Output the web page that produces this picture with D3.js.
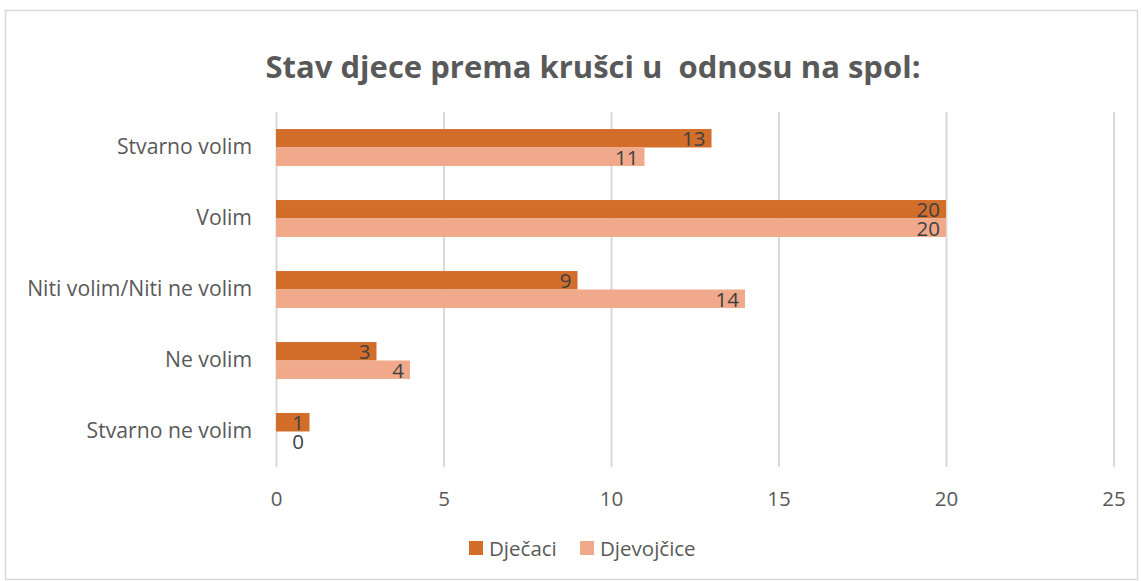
<!DOCTYPE html>
<html>
<head>
<meta charset="utf-8">
<script src="https://cdn.jsdelivr.net/npm/d3@7"></script>
<style>
  body { margin: 0; background: #fff; }
  svg { display: block; }
</style>
</head>
<body>
<svg width="1141" height="581"></svg>
<script>
const categories = ["Stvarno volim", "Volim", "Niti volim/Niti ne volim", "Ne volim", "Stvarno ne volim"];
const seriesNames = ["Dječaci", "Djevojčice"];
const boys = [13, 20, 9, 3, 1];
const girls = [11, 20, 14, 4, 0];
const xTicks = [0, 5, 10, 15, 20, 25];
const title = "Stav djece prema krušci u  odnosu na spol:";

const colors = ["#d36e2a", "#f1a98b"];
const textFont = "'Open Sans', sans-serif";

const svg = d3.select("svg");
const width = 1141, height = 581;
const margin = { top: 112, right: 28, bottom: 114, left: 276 };

// chart frame
svg.append("rect")
  .attr("x", 5.5).attr("y", 10.5)
  .attr("width", width - 9).attr("height", height - 12)
  .attr("fill", "#fff")
  .attr("stroke", "#d9d9d9")
  .attr("stroke-width", 1.5);

const x = d3.scaleLinear()
  .domain([0, 25])
  .range([margin.left, 1113.5]);

const y = d3.scaleBand()
  .domain(categories)
  .range([margin.top, height - margin.bottom])
  .paddingInner(0.48)
  .paddingOuter(0.24);

const ySub = d3.scaleBand()
  .domain(seriesNames)
  .range([0, y.bandwidth()]);

// gridlines
const grid = svg.append("g")
  .attr("transform", `translate(0,${height - margin.bottom})`)
  .call(d3.axisBottom(x).tickValues(xTicks).tickSize(-(height - margin.bottom - margin.top)).tickFormat(""));
grid.select(".domain").remove();
grid.selectAll("line").attr("stroke", "#d9d9d9").attr("stroke-width", 2);

// x tick labels
const xAxis = svg.append("g")
  .attr("transform", `translate(0,${height - margin.bottom})`)
  .call(d3.axisBottom(x).tickValues(xTicks).tickSize(0).tickPadding(24));
xAxis.select(".domain").remove();
xAxis.selectAll("text")
  .attr("font-family", textFont)
  .attr("font-size", 20.5)
  .attr("fill", "#595959");

// category labels
const yAxis = svg.append("g")
  .attr("transform", `translate(${margin.left},0)`)
  .call(d3.axisLeft(y).tickSize(0).tickPadding(24));
yAxis.select(".domain").remove();
yAxis.selectAll("text")
  .attr("font-family", textFont)
  .attr("font-size", 21.2)
  .attr("fill", "#595959");

const rows = categories.map((c, i) => ({ cat: c, values: [boys[i], girls[i]] }));

const groups = svg.append("g")
  .selectAll("g")
  .data(rows)
  .enter()
  .append("g")
  .attr("transform", d => `translate(0,${y(d.cat)})`);

groups.selectAll("rect")
  .data(d => d.values.map((v, j) => ({ v, s: seriesNames[j], j })))
  .enter()
  .append("rect")
  .attr("x", x(0))
  .attr("y", d => ySub(d.s))
  .attr("width", d => x(d.v) - x(0))
  .attr("height", ySub.bandwidth())
  .attr("fill", d => colors[d.j]);

groups.selectAll("text")
  .data(d => d.values.map((v, j) => ({ v, s: seriesNames[j], j })))
  .enter()
  .append("text")
  .attr("x", d => Math.max(x(d.v) - 6, x(0) + 28))
  .attr("y", d => ySub(d.s) + ySub.bandwidth() / 2)
  .attr("dy", "0.38em")
  .attr("text-anchor", "end")
  .attr("font-family", textFont)
  .attr("font-size", 20.5)
  .attr("fill", "#404040")
  .text(d => d.v);

// title
svg.append("text")
  .attr("x", 593)
  .attr("y", 78)
  .attr("text-anchor", "middle")
  .attr("font-family", "'Liberation Sans Narrow', 'Open Sans', sans-serif")
  .attr("font-weight", "bold")
  .attr("font-size", 31)
  .attr("fill", "#595959")
  .attr("textLength", 655)
  .attr("lengthAdjust", "spacingAndGlyphs")
  .style("white-space", "pre")
  .text(title);

// legend
const legend = svg.append("g");
const legendX = [469, 580];
seriesNames.forEach((name, j) => {
  legend.append("rect")
    .attr("x", legendX[j]).attr("y", 541)
    .attr("width", 14).attr("height", 14)
    .attr("fill", colors[j]);
  legend.append("text")
    .attr("x", legendX[j] + 20)
    .attr("y", 555.5)
    .attr("font-family", textFont)
    .attr("font-size", 20.5)
    .attr("fill", "#595959")
    .text(name);
});
</script>
</body>
</html>
